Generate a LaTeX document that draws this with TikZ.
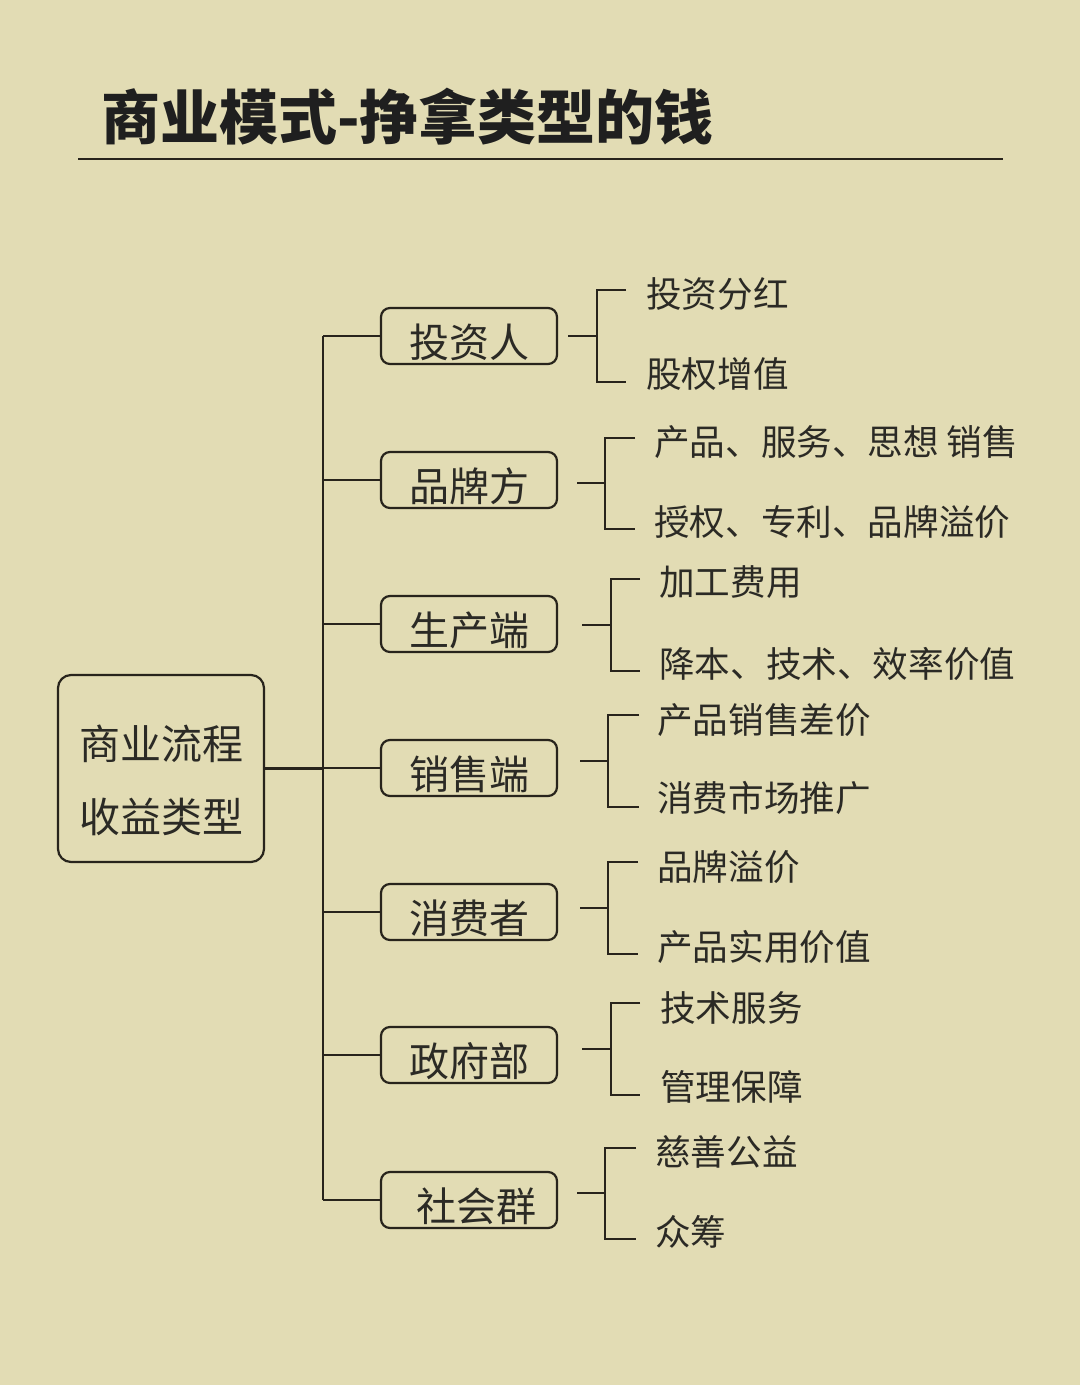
\documentclass[tikz,border=0pt]{standalone}
\usepackage{fontspec}
\setmainfont{Noto Sans CJK SC}
\definecolor{bg}{HTML}{E2DCB4}
\definecolor{ink}{HTML}{28241C}
\definecolor{txt}{HTML}{2B2A25}
\begin{document}
\begin{tikzpicture}[x=1pt,y=-1pt,
  line/.style={draw=ink,line width=2.5pt},
  midbox/.style={draw=ink,line width=2.2pt,rounded corners=9pt,minimum width=176pt,minimum height=56pt,inner sep=0pt,text=txt,font=\fontsize{40}{48}\selectfont},
  rootbox/.style={draw=ink,line width=2.2pt,rounded corners=13pt,minimum width=206pt,minimum height=187pt,inner sep=0pt,text=txt,font=\fontsize{41}{73}\selectfont},
  leaf/.style={anchor=west,inner sep=0pt,text=txt,font=\fontsize{35.6}{42}\selectfont},
  titlestyle/.style={anchor=west,inner sep=0pt,text=black!88,font=\fontsize{59}{64}\selectfont\bfseries}]
\fill[bg] (0,0) rectangle (1080,1385);
\useasboundingbox (0,0) rectangle (1080,1385);

% title
\node[titlestyle] (title) at (101,117) {商业模式-挣拿类型的钱};
\coordinate (ruleL) at (78,159);
\coordinate (ruleR) at (1003,159);
\draw[line,line width=2.8pt] (ruleL) -- (ruleR);

% root
\node[rootbox] (root) at (161,768.5) {\raisebox{-13pt}[\height][\depth]{\begin{tabular}{@{}c@{}}商业流程\\收益类型\end{tabular}}};

% middle boxes
\node[midbox] (m1) at (469,336) {\raisebox{-6pt}[\height][\depth]{投资人}};
\node[midbox] (m2) at (469,480) {\raisebox{-6pt}[\height][\depth]{品牌方}};
\node[midbox] (m3) at (469,624) {\raisebox{-6pt}[\height][\depth]{生产端}};
\node[midbox] (m4) at (469,768) {\raisebox{-6pt}[\height][\depth]{销售端}};
\node[midbox] (m5) at (469,912) {\raisebox{-6pt}[\height][\depth]{消费者}};
\node[midbox] (m6) at (469,1055) {\raisebox{-6pt}[\height][\depth]{政府部}};
\node[midbox] (m7) at (469,1200) {\hspace*{14pt}\raisebox{-6pt}[\height][\depth]{社会群}};

% trunk
\coordinate (tk1) at (323,336);
\coordinate (tk7) at (323,1200);
\draw[line] (root.east) -- (root.east -| tk1);
\draw[line] (tk1) -- (tk7);
\foreach \m in {m1,m2,m3,m4,m5,m6,m7}
  \draw[line] (\m.west -| tk1) -- (\m.west);

% leaves
\node[leaf] (l1a) at (646,294) {投资分红};
\node[leaf] (l1b) at (646,374) {股权增值};
\node[leaf] (l2a) at (654,442) {产品、服务、思想 销售};
\node[leaf] (l2b) at (654,522) {授权、专利、品牌溢价};
\node[leaf] (l3a) at (659,582) {加工费用};
\node[leaf] (l3b) at (659,664) {降本、技术、效率价值};
\node[leaf] (l4a) at (657,720) {产品销售差价};
\node[leaf] (l4b) at (657,798) {消费市场推广};
\node[leaf] (l5a) at (657,867) {品牌溢价};
\node[leaf] (l5b) at (657,947) {产品实用价值};
\node[leaf] (l6a) at (660,1008) {技术服务};
\node[leaf] (l6b) at (660,1087) {管理保障};
\node[leaf] (l7a) at (655,1152) {慈善公益};
\node[leaf] (l7b) at (655,1232) {众筹};

% brackets: stub start, junction, top tick end, bottom tick end
\foreach \i/\sx/\jx/\yc/\ty/\by/\tx in {
  1/568/597/336/290/382/626,
  2/577/605/483/438/529/635,
  3/582/611/625/579/671/640,
  4/580/608/761/715/807/639,
  5/580/608/908/862/954/638,
  6/582/611/1049/1003/1095/640,
  7/577/605/1193/1148/1239/636}{
  \coordinate (s\i) at (\sx,\yc);
  \coordinate (j\i) at (\jx,\yc);
  \coordinate (a\i) at (\tx,\ty);
  \coordinate (b\i) at (\tx,\by);
  \draw[line] (s\i) -- (j\i);
  \draw[line] (a\i) -- (j\i |- a\i) -- (j\i |- b\i) -- (b\i);
}
\end{tikzpicture}
\end{document}
